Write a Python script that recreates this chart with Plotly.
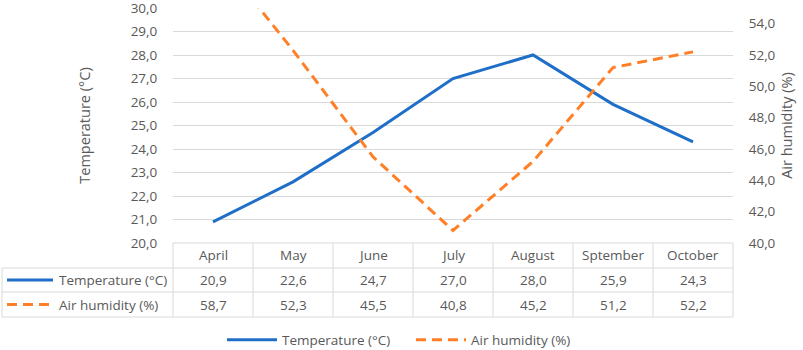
import plotly.graph_objects as go

months = ["April", "May", "June", "July", "August", "Sptember", "October"]
temperature = [20.9, 22.6, 24.7, 27.0, 28.0, 25.9, 24.3]
humidity = [58.7, 52.3, 45.5, 40.8, 45.2, 51.2, 52.2]
series_names = ["Temperature (°C)", "Air humidity (%)"]

W, H = 803, 350
L, R, T, B = 173, 733, 8, 243
BLUE = "#1F6FC8"
ORANGE = "#FF7F27"
GRID = "#D9D9D9"
TXT = "#595959"
FONT = "Open Sans"


def px(x):
    return (x - L) / (R - L)


def py(y):
    return (B - y) / (B - T)


def fmt(v):
    return f"{v:.1f}".replace(".", ",")


fig = go.Figure()
fig.add_trace(go.Scatter(x=months, y=temperature, name=series_names[0], mode="lines",
                         line=dict(color=BLUE, width=3), yaxis="y"))
fig.add_trace(go.Scatter(x=months, y=humidity, name=series_names[1], mode="lines",
                         line=dict(color=ORANGE, width=3, dash="10px,6px"), yaxis="y2"))

shapes = []
line_style = dict(color=GRID, width=1)
# horizontal table lines
shapes.append(dict(type="line", xref="paper", yref="paper", x0=px(L), x1=px(R), y0=py(243), y1=py(243), line=line_style))
for yy in (268, 292, 317):
    shapes.append(dict(type="line", xref="paper", yref="paper", x0=px(2), x1=px(R), y0=py(yy), y1=py(yy), line=line_style))
# vertical table lines
shapes.append(dict(type="line", xref="paper", yref="paper", x0=px(2), x1=px(2), y0=py(268), y1=py(317), line=line_style))
for i in range(len(months) + 1):
    xx = L + i * (R - L) / len(months)
    shapes.append(dict(type="line", xref="paper", yref="paper", x0=px(xx), x1=px(xx), y0=py(243), y1=py(317), line=line_style))
# legend keys in the table
shapes.append(dict(type="line", xref="paper", yref="paper", x0=px(7), x1=px(53), y0=py(280), y1=py(280),
                   line=dict(color=BLUE, width=3)))
shapes.append(dict(type="line", xref="paper", yref="paper", x0=px(7), x1=px(53), y0=py(304.5), y1=py(304.5),
                   line=dict(color=ORANGE, width=3, dash="10px,6px")))

annotations = []
row_y = [255.5, 280, 304.5]
for m in months:
    annotations.append(dict(x=m, xref="x", y=py(row_y[0]), yref="paper", text=m, showarrow=False,
                            font=dict(family=FONT, size=13.5, color=TXT), xanchor="center", yanchor="middle"))
for m, t, h in zip(months, temperature, humidity):
    annotations.append(dict(x=m, xref="x", y=py(row_y[1]), yref="paper", text=fmt(t), showarrow=False,
                            font=dict(family=FONT, size=13.5, color=TXT), xanchor="center", yanchor="middle"))
    annotations.append(dict(x=m, xref="x", y=py(row_y[2]), yref="paper", text=fmt(h), showarrow=False,
                            font=dict(family=FONT, size=13.5, color=TXT), xanchor="center", yanchor="middle"))
for name, yy in zip(series_names, row_y[1:]):
    annotations.append(dict(x=px(57), xref="paper", y=py(yy), yref="paper", text=name, showarrow=False,
                            font=dict(family=FONT, size=13.5, color=TXT), xanchor="left", yanchor="middle"))

fig.update_layout(
    width=W, height=H,
    margin=dict(l=L, r=W - R, t=T, b=H - B, pad=0, autoexpand=False),
    paper_bgcolor="white", plot_bgcolor="white",
    font=dict(family=FONT, size=13, color=TXT),
    separators=",.",
    xaxis=dict(range=[-0.5, len(months) - 0.5], showticklabels=False, showgrid=False,
               zeroline=False, showline=False, ticks="", fixedrange=True, automargin=False),
    yaxis=dict(range=[20, 30], dtick=1, tick0=20, tickformat=".1f", showgrid=True, gridcolor=GRID,
               gridwidth=1, zeroline=False, showline=False, ticks="outside", ticklen=12,
               tickcolor="rgba(0,0,0,0)", tickfont=dict(family=FONT, size=13.5, color=TXT), automargin=False,
               ticklabeloverflow="allow",
               title=dict(text=series_names[0], font=dict(family=FONT, size=14.5, color=TXT), standoff=36)),
    yaxis2=dict(range=[40, 55], dtick=2, tick0=40, tickformat=".1f", overlaying="y", side="right",
                showgrid=False, zeroline=False, showline=False, ticks="outside", ticklen=12,
                tickcolor="rgba(0,0,0,0)", tickfont=dict(family=FONT, size=13.5, color=TXT), automargin=False,
                ticklabeloverflow="allow",
                title=dict(text=series_names[1], font=dict(family=FONT, size=14.5, color=TXT), standoff=7)),
    legend=dict(orientation="h", x=px(222), xanchor="left", y=py(340), yanchor="middle",
                itemwidth=50, entrywidth=124, entrywidthmode="pixels",
                font=dict(family=FONT, size=13.5, color=TXT), bgcolor="rgba(0,0,0,0)"),
    shapes=shapes,
    annotations=annotations,
)

fig.write_html("out.html", config={"displayModeBar": False},
               post_script="document.body.style.margin='0';document.body.style.padding='0';")
